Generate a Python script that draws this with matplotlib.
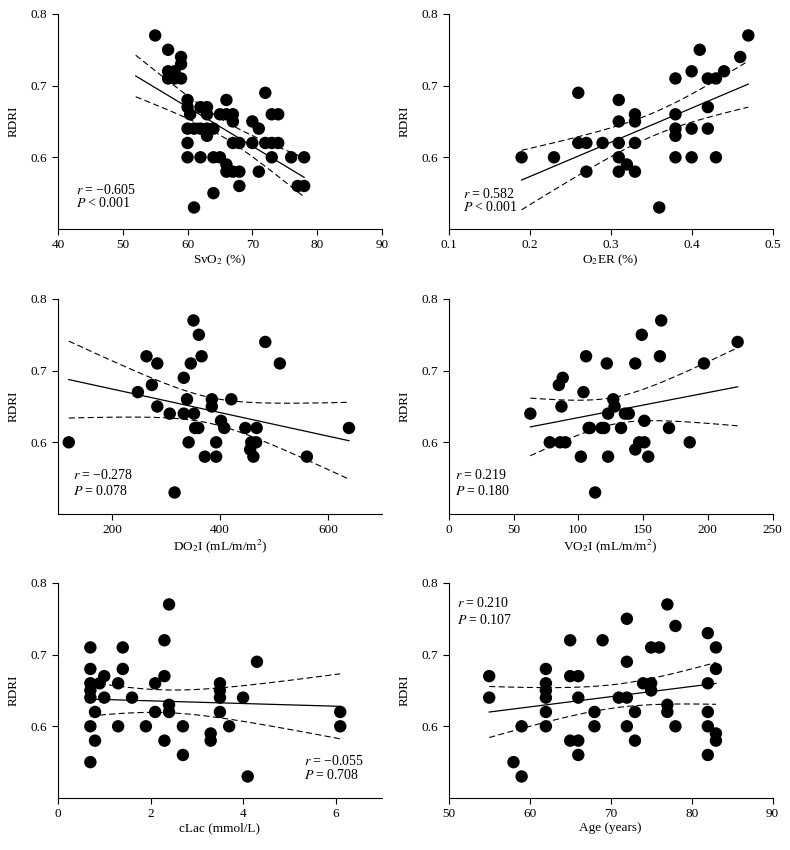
import numpy as np
import matplotlib
matplotlib.use("Agg")
import matplotlib.pyplot as plt

plt.rcParams['font.family'] = ['Liberation Serif', 'DejaVu Serif']
plt.rcParams['mathtext.fontset'] = 'stix'
plt.rcParams['font.size'] = 9

# RDRI against each predictor
svo2 = [55, 57, 57, 57, 58, 58, 59, 59, 59, 60, 60, 60.4, 60, 60, 60, 61, 61,
        62, 62, 62, 63, 63, 63, 63, 64, 64, 64, 65, 65, 66, 66, 66, 66, 67, 67,
        67, 67, 68, 68, 68, 70, 70, 71, 71, 72, 72, 73, 73, 73, 74, 74, 76, 77,
        78, 78]
svo2_rdri = [0.77, 0.75, 0.72, 0.71, 0.72, 0.71, 0.74, 0.73, 0.71, 0.68, 0.67,
             0.66, 0.64, 0.62, 0.60, 0.64, 0.53, 0.67, 0.64, 0.60, 0.67, 0.66,
             0.64, 0.63, 0.64, 0.60, 0.55, 0.66, 0.60, 0.68, 0.66, 0.59, 0.58,
             0.66, 0.65, 0.62, 0.58, 0.62, 0.58, 0.56, 0.65, 0.62, 0.64, 0.58,
             0.69, 0.62, 0.66, 0.62, 0.60, 0.66, 0.62, 0.60, 0.56, 0.56, 0.60]

o2er = [0.19, 0.23, 0.26, 0.26, 0.27, 0.27, 0.29, 0.31, 0.31, 0.31, 0.31, 0.31,
        0.32, 0.33, 0.33, 0.33, 0.33, 0.36, 0.38, 0.38, 0.38, 0.38, 0.38, 0.40,
        0.40, 0.40, 0.41, 0.42, 0.42, 0.42, 0.43, 0.43, 0.44, 0.46, 0.47]
o2er_rdri = [0.60, 0.60, 0.69, 0.62, 0.62, 0.58, 0.62, 0.68, 0.65, 0.62, 0.60,
             0.58, 0.59, 0.66, 0.65, 0.62, 0.58, 0.53, 0.71, 0.66, 0.64, 0.63,
             0.60, 0.72, 0.64, 0.60, 0.75, 0.71, 0.67, 0.64, 0.71, 0.60, 0.72,
             0.74, 0.77]

do2i = [120, 248, 264, 274, 284, 284, 307, 333, 333, 339, 342, 346, 351, 352,
        354, 360, 361, 366, 372, 316, 385, 385, 393, 393, 402, 408, 421, 447,
        456, 458, 462, 467, 468, 484, 511, 561, 639]
do2i_rdri = [0.60, 0.67, 0.72, 0.68, 0.71, 0.65, 0.64, 0.69, 0.64, 0.66, 0.60,
             0.71, 0.77, 0.64, 0.62, 0.62, 0.75, 0.72, 0.58, 0.53, 0.66, 0.65,
             0.60, 0.58, 0.63, 0.62, 0.66, 0.62, 0.59, 0.60, 0.58, 0.60, 0.62,
             0.74, 0.71, 0.58, 0.62]

vo2i = [63, 78, 85, 88, 87, 86, 90, 102, 104, 106, 108, 109, 113, 118, 120,
        122, 123, 123, 127, 128, 133, 136, 139, 144, 144, 147, 149, 151, 151,
        154, 163, 164, 170, 186, 197, 223]
vo2i_rdri = [0.64, 0.60, 0.68, 0.69, 0.65, 0.60, 0.60, 0.58, 0.67, 0.72, 0.62,
             0.62, 0.53, 0.62, 0.62, 0.71, 0.64, 0.58, 0.66, 0.65, 0.62, 0.64,
             0.64, 0.71, 0.59, 0.60, 0.75, 0.60, 0.63, 0.58, 0.72, 0.77, 0.62,
             0.60, 0.71, 0.74]

clac = [0.7, 0.7, 0.7, 0.7, 0.7, 0.7, 0.7, 0.8, 0.8, 0.9, 1.0, 1.0, 1.3, 1.3,
        1.4, 1.4, 1.6, 1.9, 2.1, 2.1, 2.3, 2.3, 2.3, 2.4, 2.4, 2.4, 2.7, 2.7,
        3.3, 3.3, 3.5, 3.5, 3.5, 3.5, 3.7, 4.0, 4.1, 4.3, 6.1, 6.1]
clac_rdri = [0.71, 0.68, 0.66, 0.65, 0.64, 0.60, 0.55, 0.62, 0.58, 0.66, 0.67,
             0.64, 0.66, 0.60, 0.71, 0.68, 0.64, 0.60, 0.66, 0.62, 0.72, 0.67,
             0.58, 0.77, 0.63, 0.62, 0.60, 0.56, 0.59, 0.58, 0.66, 0.65, 0.64,
             0.62, 0.60, 0.64, 0.53, 0.69, 0.62, 0.60]

age = [55, 55, 58, 59, 59, 62, 62, 62, 62, 62, 62, 65, 65, 65, 66, 66, 66, 66,
       68, 68, 69, 71, 72, 72, 72, 72, 73, 73, 74, 75, 75, 75, 76, 77, 77, 77,
       78, 78, 82, 82, 82, 82, 82, 83, 83, 83, 83]
age_rdri = [0.67, 0.64, 0.55, 0.53, 0.60, 0.68, 0.66, 0.65, 0.64, 0.62, 0.60,
            0.72, 0.67, 0.58, 0.67, 0.64, 0.58, 0.56, 0.62, 0.60, 0.72, 0.64,
            0.75, 0.69, 0.64, 0.60, 0.62, 0.58, 0.66, 0.71, 0.66, 0.65, 0.71,
            0.77, 0.63, 0.62, 0.74, 0.60, 0.73, 0.66, 0.62, 0.60, 0.56, 0.71,
            0.68, 0.59, 0.58]

# reported correlation coefficients and P values
r_values = [-0.605, 0.582, -0.278, 0.219, -0.055, 0.210]
p_texts = ['< 0.001', '< 0.001', '= 0.078', '= 0.180', '= 0.708', '= 0.107']

panels = [
    (svo2, svo2_rdri, r'SvO$_2$ (%)', (40, 90), [40, 50, 60, 70, 80, 90], (52, 78)),
    (o2er, o2er_rdri, r'O$_2$ER (%)', (0.1, 0.5), [0.1, 0.2, 0.3, 0.4, 0.5], None),
    (do2i, do2i_rdri, r'DO$_2$I (mL/m/m$^2$)', (100, 700), [200, 400, 600], None),
    (vo2i, vo2i_rdri, r'VO$_2$I (mL/m/m$^2$)', (0, 250), [0, 50, 100, 150, 200, 250], None),
    (clac, clac_rdri, 'cLac (mmol/L)', (0, 7), [0, 2, 4, 6], None),
    (age, age_rdri, 'Age (years)', (50, 90), [50, 60, 70, 80, 90], None),
]
# baseline of the r / P lines in axes fraction
text_pos = [(0.057, 0.162, 0.100), (0.044, 0.146, 0.084), (0.046, 0.163, 0.090),
            (0.019, 0.163, 0.090), (0.758, 0.155, 0.090), (0.026, 0.890, 0.810)]

fig = plt.figure(figsize=(7.9, 8.5), dpi=100)
lefts = [0.0734, 0.568]
bottoms = [0.7306, 0.3953, 0.0612]
w, h = 0.410, 0.253

for i, (x, y, xlabel, xlim, xticks, fit) in enumerate(panels):
    ax = fig.add_axes([lefts[i % 2], bottoms[i // 2], w, h])
    x = np.asarray(x, float)
    y = np.asarray(y, float)
    ax.scatter(x, y, s=80, color='black', edgecolors='none', zorder=3,
               clip_on=False)

    # regression line with the reported r, 95% CI of the mean
    n = len(x)
    r = r_values[i]
    b = r * y.std(ddof=1) / x.std(ddof=1)
    a = y.mean() - b * x.mean()
    lo, hi = fit if fit else (x.min(), x.max())
    xx = np.linspace(lo, hi, 100)
    yy = a + b * xx
    s = y.std(ddof=1) * np.sqrt((1 - r ** 2) * (n - 1) / (n - 2))
    sxx = np.sum((x - x.mean()) ** 2)
    df = n - 2
    tval = 1.96 + (1.96 ** 3 + 1.96) / (4 * df)
    se = s * np.sqrt(1.0 / n + (xx - x.mean()) ** 2 / sxx)
    ax.plot(xx, yy, color='black', lw=0.9)
    ax.plot(xx, yy + tval * se, color='black', lw=0.8, ls=(0, (5.5, 3)))
    ax.plot(xx, yy - tval * se, color='black', lw=0.8, ls=(0, (5.5, 3)))

    ax.set_xlim(*xlim)
    ax.set_ylim(0.5, 0.8)
    ax.set_xticks(xticks)
    ax.set_yticks([0.6, 0.7, 0.8])
    ax.set_xlabel(xlabel, labelpad=1, fontsize=9.5)
    ax.set_ylabel('RDRI', labelpad=8, fontsize=9.5)
    for side in ('top', 'right'):
        ax.spines[side].set_visible(False)
    for side in ('left', 'bottom'):
        ax.spines[side].set_linewidth(0.8)
    ax.tick_params(direction='out', length=4, width=0.8, labelsize=9.5)

    tx, ty1, ty2 = text_pos[i]
    r_txt = f'{r:.3f}'.replace('-', '\u2212')
    ax.text(tx, ty1, r'$r\;$= ' + r_txt, transform=ax.transAxes,
            va='baseline', ha='left', fontsize=10)
    ax.text(tx, ty2, r'$P\;$' + p_texts[i], transform=ax.transAxes,
            va='baseline', ha='left', fontsize=10)

fig.savefig('out.png', dpi=100)
